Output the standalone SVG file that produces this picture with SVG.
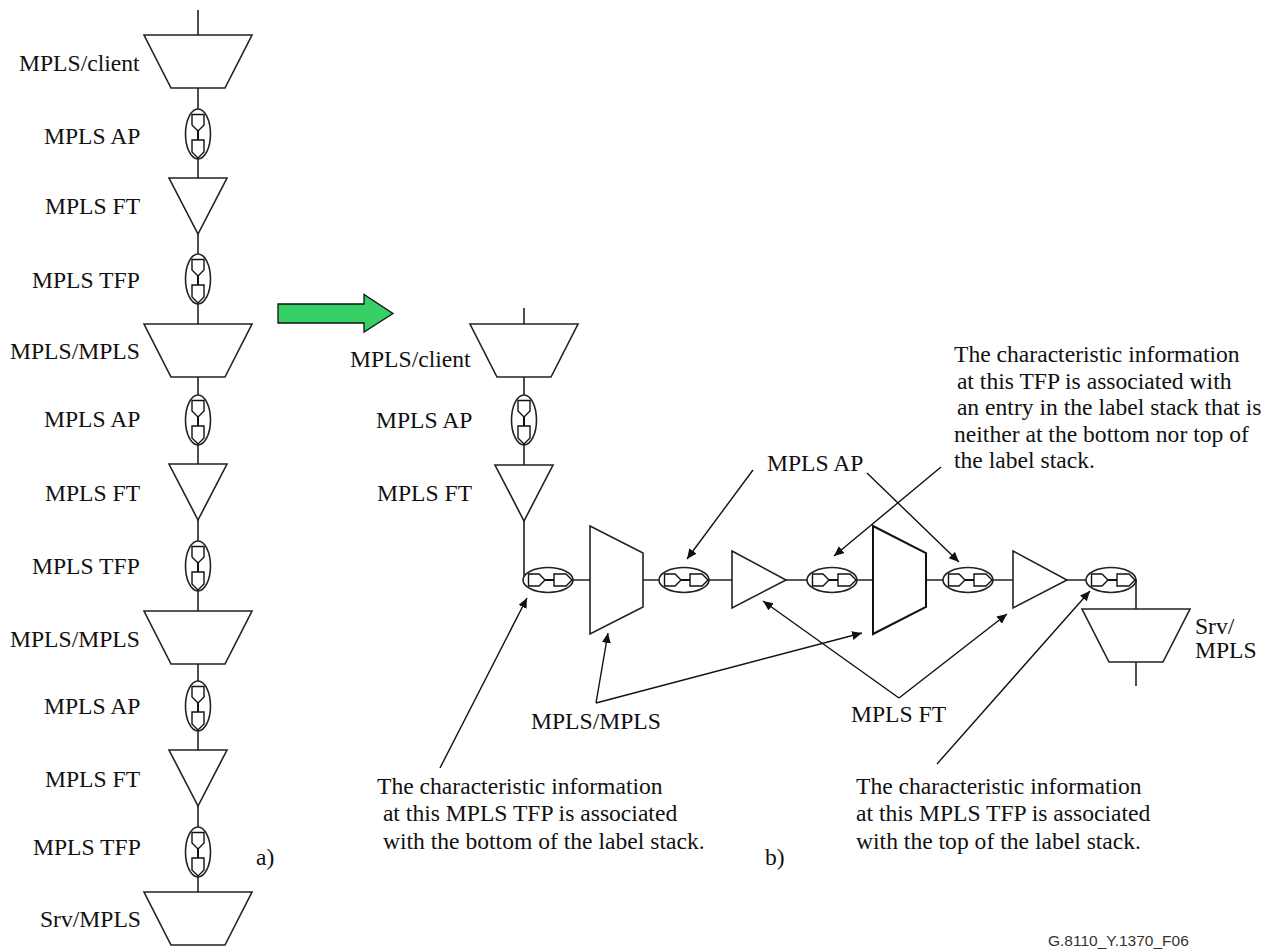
<svg xmlns="http://www.w3.org/2000/svg" xmlns:xlink="http://www.w3.org/1999/xlink" width="1282" height="950" viewBox="0 0 1282 950">
<style>
text{font-family:"Liberation Serif","Times New Roman",serif;font-size:23.6px;fill:#111}
.f{fill:#fff;stroke:#222;stroke-width:1.6}
.b{fill:#fff;stroke:#111;stroke-width:2}
.l{fill:none;stroke:#222;stroke-width:1.6}
.a{fill:none;stroke:#111;stroke-width:1.4;marker-end:url(#h)}
.m{fill:none;stroke:#111;stroke-width:1.4}
</style>
<defs>
<marker id="h" markerUnits="userSpaceOnUse" markerWidth="12" markerHeight="10" refX="10" refY="4.5" orient="auto"><path d="M0,0L10,4.5L0,9Z" fill="#111"/></marker>
<g id="tfp"><ellipse rx="25" ry="12.5" class="f"/><path class="m" d="M-19.5,-6H-9L-3,0L-9,6H-19.5ZM6,-6H18L24,0L18,6H6Z"/><path d="M-3,0H6" stroke="#111" stroke-width="2"/></g>
<path id="trap" class="f" d="M-54,0H54L27,53H-27Z"/>
<path id="tri" class="f" d="M-29,0H29L0,56Z"/>
<path id="mux" class="f" d="M0,-54L53,-27V27L0,54Z"/>
<path id="rtri" class="f" d="M0,-29L54,0L0,28Z"/>
</defs>
<g id="connectors">
<path class="l" d="M198,10V945"/>
<path class="l" d="M524,308V580H590M643,580H732M786,580H873M926,580H1013M1067,580H1136V686"/>
<path class="a" d="M440,768L527,598"/>
<path class="a" d="M596,703L608,633"/>
<path class="a" d="M596,703L862,633"/>
<path class="a" d="M899,698L763,601"/>
<path class="a" d="M899,698L1007,614"/>
<path class="a" d="M937,764L1090,591"/>
<path class="a" d="M753,470L687,559"/>
<path class="a" d="M941,467L834,556"/>
<path class="a" d="M867,473L959,562"/>
</g>
<g id="n-a1"><use xlink:href="#trap" x="198" y="35"/><text x="19" y="71">MPLS/client</text></g>
<g id="n-a2"><use xlink:href="#tfp" transform="translate(198,134) rotate(90)"/><text x="44" y="144">MPLS AP</text></g>
<g id="n-a3"><use xlink:href="#tri" x="198" y="178"/><text x="45" y="214">MPLS FT</text></g>
<g id="n-a4"><use xlink:href="#tfp" transform="translate(198,279) rotate(90)"/><text x="32" y="288">MPLS TFP</text></g>
<g id="n-a5"><use xlink:href="#trap" x="198" y="324"/><text x="10" y="359">MPLS/MPLS</text></g>
<g id="n-a6"><use xlink:href="#tfp" transform="translate(198,420) rotate(90)"/><text x="44" y="427">MPLS AP</text></g>
<g id="n-a7"><use xlink:href="#tri" x="198" y="464"/><text x="45" y="501">MPLS FT</text></g>
<g id="n-a8"><use xlink:href="#tfp" transform="translate(198,566) rotate(90)"/><text x="32" y="574">MPLS TFP</text></g>
<g id="n-a9"><use xlink:href="#trap" x="198" y="611"/><text x="10" y="647">MPLS/MPLS</text></g>
<g id="n-a10"><use xlink:href="#tfp" transform="translate(198,706) rotate(90)"/><text x="44" y="714">MPLS AP</text></g>
<g id="n-a11"><use xlink:href="#tri" x="198" y="750"/><text x="45" y="787">MPLS FT</text></g>
<g id="n-a12"><use xlink:href="#tfp" transform="translate(198,852) rotate(90)"/><text x="33" y="855">MPLS TFP</text></g>
<g id="n-a13"><use xlink:href="#trap" x="198" y="892"/><text x="40" y="927">Srv/MPLS</text></g>
<text id="lab-a" x="256" y="865">a)</text>
<g id="arrow"><path d="M278,304H364V294.5L393,313.5L364,332V323H278Z" fill="#37d067" stroke="#111" stroke-width="1.3"/></g>
<g id="n-b1"><use xlink:href="#trap" x="524" y="324"/><text x="350" y="367">MPLS/client</text></g>
<g id="n-b2"><use xlink:href="#tfp" transform="translate(524,420) rotate(90)"/><text x="376" y="428">MPLS AP</text></g>
<g id="n-b3"><use xlink:href="#tri" x="524" y="465"/><text x="377" y="501">MPLS FT</text></g>
<g id="n-b4"><use xlink:href="#tfp" x="548" y="580"/></g>
<g id="n-b5"><use xlink:href="#mux" x="590" y="580"/></g>
<g id="n-b6"><use xlink:href="#tfp" x="684" y="580"/></g>
<g id="n-b7"><use xlink:href="#rtri" x="732" y="580"/></g>
<g id="n-b8"><use xlink:href="#tfp" x="832" y="580"/></g>
<g id="n-b9"><path class="b" d="M873,526L926,553V607L873,634Z"/></g>
<g id="n-b10"><use xlink:href="#tfp" x="968" y="580"/></g>
<g id="n-b11"><use xlink:href="#rtri" x="1013" y="580"/></g>
<g id="n-b12"><use xlink:href="#tfp" x="1111" y="580"/></g>
<g id="n-b13"><use xlink:href="#trap" x="1136" y="609"/><text x="1195" y="634">Srv/</text><text x="1195" y="658">MPLS</text></g>
<text x="767" y="471">MPLS AP</text>
<text x="531" y="729">MPLS/MPLS</text>
<text x="851" y="722">MPLS FT</text>
<text x="954" y="362">The characteristic information</text>
<text x="951" y="388.5" xml:space="preserve"> at this TFP is associated with</text>
<text x="951" y="415" xml:space="preserve"> an entry in the label stack that is</text>
<text x="954" y="441.7">neither at the bottom nor top of</text>
<text x="954" y="468.3">the label stack.</text>
<text x="377" y="794">The characteristic information</text>
<text x="377" y="821" xml:space="preserve"> at this MPLS TFP is associated</text>
<text x="377" y="848.5" xml:space="preserve"> with the bottom of the label stack.</text>
<text x="856" y="794">The characteristic information</text>
<text x="856" y="821">at this MPLS TFP is associated</text>
<text x="856" y="848.5">with the top of the label stack.</text>
<text x="765" y="865">b)</text>
<text x="1048" y="946" style="font-family:'Liberation Sans',Arial,sans-serif;font-size:15.5px;fill:#333">G.8110_Y.1370_F06</text>
</svg>
